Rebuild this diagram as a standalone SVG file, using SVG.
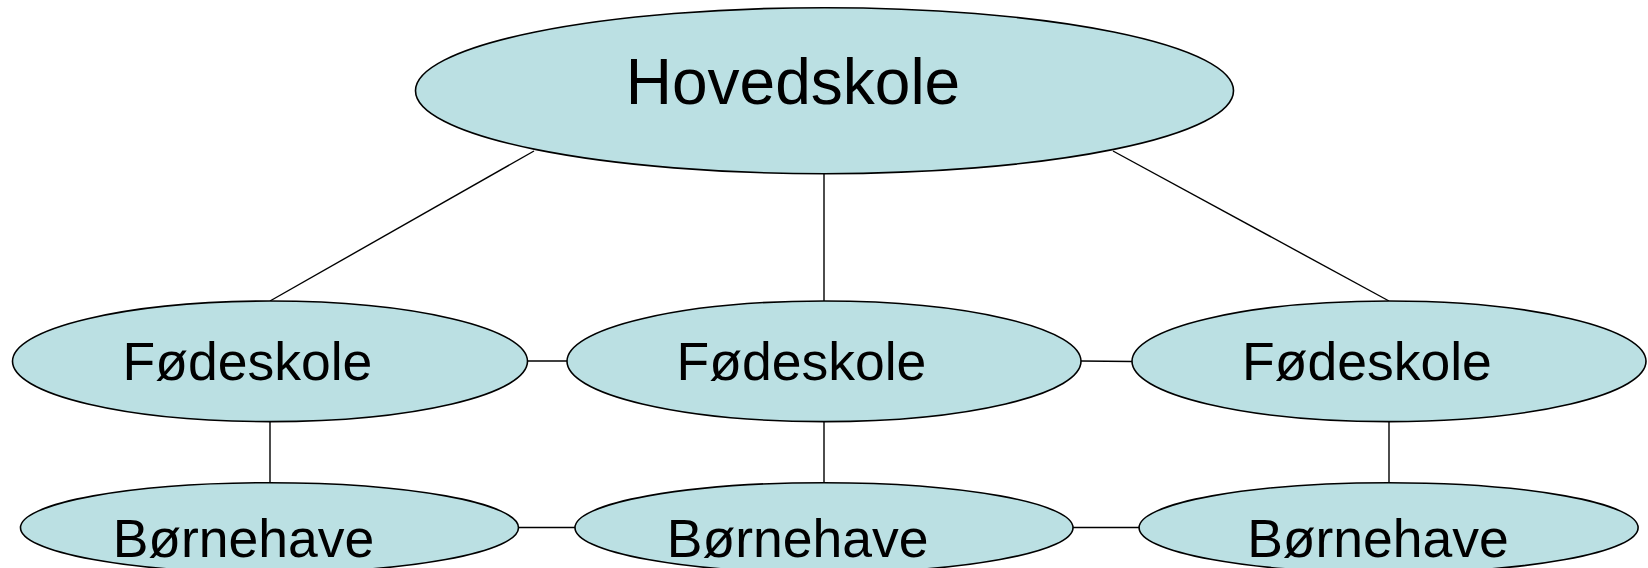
<svg xmlns="http://www.w3.org/2000/svg" width="1648" height="568" viewBox="0 0 1648 568">
<style>
.n{fill:#BBE0E3;stroke:#000;stroke-width:1.6}
.e line{stroke:#000;stroke-width:1.4}
text{font-family:"Liberation Sans",Arial,sans-serif;fill:#000;text-anchor:middle}
.big{font-size:64px}
.mid{font-size:53.5px}
</style>
<rect width="1648" height="568" fill="#fff"/>
<g id="connectors" class="e">
<line x1="534" y1="151" x2="270" y2="301"/>
<line x1="824" y1="174" x2="824" y2="301"/>
<line x1="1113" y1="151" x2="1389" y2="301"/>
<line x1="527" y1="361" x2="567" y2="361"/>
<line x1="1081" y1="361" x2="1132" y2="361.5"/>
<line x1="270" y1="421" x2="270" y2="483"/>
<line x1="824" y1="421" x2="824" y2="483"/>
<line x1="1389" y1="421" x2="1389" y2="483"/>
<line x1="519" y1="527.5" x2="575" y2="527.5"/>
<line x1="1073" y1="527.5" x2="1139" y2="527.5"/>
</g>
<g id="hovedskole">
<ellipse class="n" cx="824.5" cy="90.7" rx="409" ry="83"/>
<text class="big" x="793" y="104">Hovedskole</text>
</g>
<g id="fodeskole1">
<ellipse class="n" cx="270" cy="361.3" rx="257.5" ry="60.3"/>
<text class="mid" x="247.5" y="380">Fødeskole</text>
</g>
<g id="fodeskole2">
<ellipse class="n" cx="824" cy="361.3" rx="257" ry="60.3"/>
<text class="mid" x="801.5" y="380">Fødeskole</text>
</g>
<g id="fodeskole3">
<ellipse class="n" cx="1389" cy="361.3" rx="257" ry="60.3"/>
<text class="mid" x="1367" y="380">Fødeskole</text>
</g>
<g id="bornehave1">
<ellipse class="n" cx="269.5" cy="527.7" rx="249" ry="45"/>
<text class="mid" x="243.5" y="557">Børnehave</text>
</g>
<g id="bornehave2">
<ellipse class="n" cx="824" cy="527.7" rx="249" ry="45"/>
<text class="mid" x="797.7" y="557">Børnehave</text>
</g>
<g id="bornehave3">
<ellipse class="n" cx="1388.6" cy="527.7" rx="249.5" ry="45"/>
<text class="mid" x="1378" y="557">Børnehave</text>
</g>
</svg>
